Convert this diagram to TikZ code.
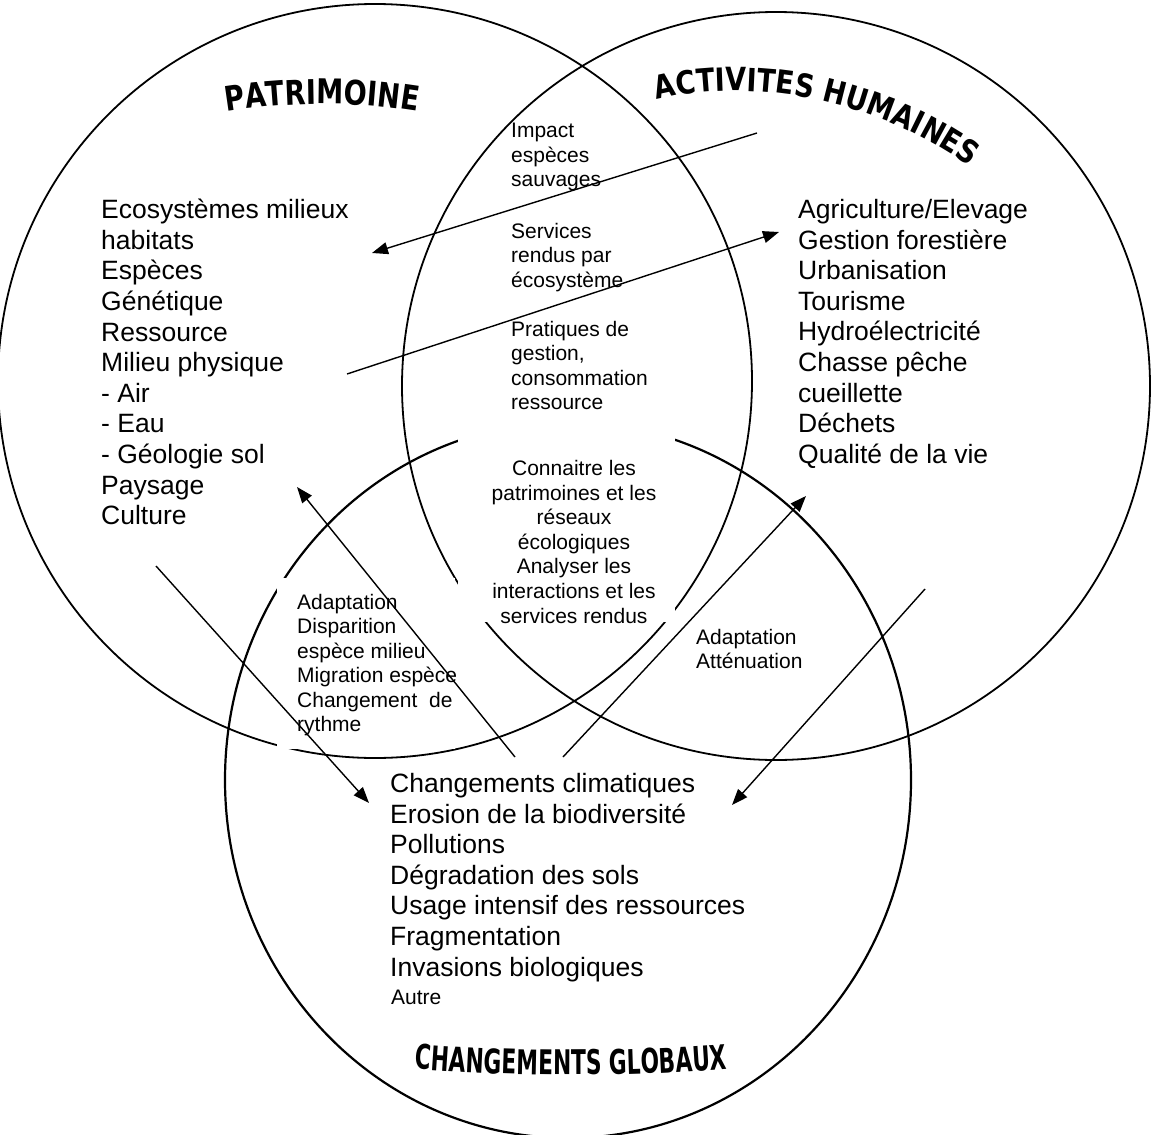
\documentclass[tikz,border=0pt]{standalone}
\usepackage{fontspec}
\setmainfont{Liberation Sans}
\newfontfamily\titlefont[FakeStretch=0.8]{DejaVu Sans Bold}
\newfontfamily\titlemid[FakeStretch=0.845]{DejaVu Sans Bold}
\newfontfamily\titlenarrow[FakeStretch=0.64]{DejaVu Sans Bold}
\usetikzlibrary{arrows.meta,decorations.text}
\begin{document}
\begin{tikzpicture}[x=1pt,y=-1pt,
  ring/.style={draw=black,line width=1.8pt},
  ringb/.style={draw=black,line width=2.2pt},
  lista/.style={anchor=north west,inner sep=0pt,align=left,font=\fontsize{26.5}{30.6}\selectfont},
  listb/.style={anchor=north west,inner sep=0pt,align=left,font=\fontsize{21}{24.4}\selectfont},
  link/.style={line width=1.4pt,-{Triangle[length=16pt,width=12pt]}},
  cover/.style={fill=white,draw=none},
  titletext/.style={decorate,decoration={text along path,text align=center,text={#1}}},
  titleleft/.style={decorate,decoration={text along path,text align=left,text={#1}}}
]
\useasboundingbox (0,0) rectangle (1152,1135);
\fill[white] (0,0) rectangle (1152,1135);

% circles
\draw[ring] (375,381) circle[radius=377];
\draw[ring] (776,386) circle[radius=374];
\draw[ringb] (568,780) ellipse[x radius=343,y radius=358];

% white text boxes hiding parts of circles
\fill[cover] (277,578) rectangle (455,749);
\fill[cover] (458,418) rectangle (675,622);

% titles
\path[titletext={|\titlefont\fontsize{34}{34}\selectfont|PATRIMOINE}]
  (322,704) ++(254:600) arc[start angle=254,end angle=286,radius=600];
\path[titleleft={|\titlemid\fontsize{32}{32}\selectfont|ACTIVITES HUMAINES}]
  (657,100) .. controls (740,78) and (880,92) .. (990,182);
\path[titletext={|\titlenarrow\fontsize{34}{34}\selectfont|CHANGEMENTS GLOBAUX}]
  (571,-925) ++(95:2000) arc[start angle=95,end angle=85,radius=2000];

% lists
\node[lista] (pat) at (101,199) {Ecosystèmes milieux\\habitats\\Espèces\\Génétique\\Ressource\\Milieu physique\\- Air\\- Eau\\- Géologie sol\\Paysage\\Culture};
\node[lista] (act) at (798,199) {Agriculture/Elevage\\Gestion forestière\\Urbanisation\\Tourisme\\Hydroélectricité\\Chasse pêche\\cueillette\\Déchets\\Qualité de la vie};
\node[lista] (chg) at (390,773) {Changements climatiques\\Erosion de la biodiversité\\Pollutions\\Dégradation des sols\\Usage intensif des ressources\\Fragmentation\\Invasions biologiques};
\node[listb] (autre) at (391,990) {Autre};

% intersection texts
\node[listb] (impact) at (511,123) {Impact\\espèces\\sauvages};
\node[listb] (serv) at (511,223) {Services\\rendus par\\écosystème};
\node[listb] (prat) at (511,321) {Pratiques de\\gestion,\\consommation\\ressource};
\node[anchor=north,inner sep=0pt,align=center,font=\fontsize{21}{24.6}\selectfont] (conn) at (574,460)
  {Connaitre les\\patrimoines et les\\réseaux\\écologiques\\Analyser les\\interactions et les\\services rendus};
\node[listb] (adap) at (297,594) {Adaptation\\Disparition\\espèce milieu\\Migration espèce\\Changement~ de\\rythme};
\node[listb] (att) at (696,629) {Adaptation\\Atténuation};

% arrows
\coordinate (a1s) at (757,133); \coordinate (a1e) at (372,253);
\coordinate (a2s) at (347,374); \coordinate (a2e) at (779,232);
\coordinate (a3s) at (156,566); \coordinate (a3e) at (369,803);
\coordinate (a4s) at (515,757); \coordinate (a4e) at (297,487);
\coordinate (a5s) at (563,757); \coordinate (a5e) at (806,496);
\coordinate (a6s) at (925,589); \coordinate (a6e) at (732,805);
\draw[link] (a1s) -- (a1e);
\draw[link] (a2s) -- (a2e);
\draw[link] (a3s) -- (a3e);
\draw[link] (a4s) -- (a4e);
\draw[link] (a5s) -- (a5e);
\draw[link] (a6s) -- (a6e);
\end{tikzpicture}
\end{document}
